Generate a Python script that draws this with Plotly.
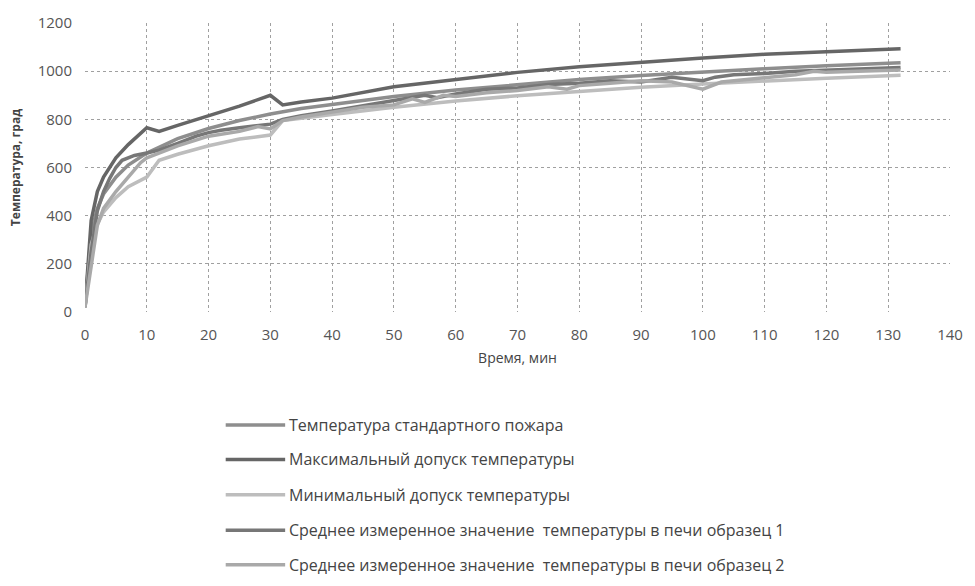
import plotly.graph_objects as go

# ---------------- data ----------------
series_names = [
    "Температура стандартного пожара",
    "Максимальный допуск температуры",
    "Минимальный допуск температуры",
    "Среднее измеренное значение  температуры в печи образец 1",
    "Среднее измеренное значение  температуры в печи образец 2",
]

t_std = [0, 1, 2, 3, 5, 7, 10, 15, 20, 25, 30, 35, 40, 50, 60, 70, 80, 90, 100, 110, 120, 132]
v_std = [20, 330, 430, 490, 560, 610, 660, 720, 762, 795, 822, 845, 862, 895, 922, 945, 965, 982, 997, 1010, 1022, 1035]

t_max = [0, 1, 2, 3, 5, 7, 10, 12, 15, 20, 25, 30, 32, 35, 40, 50, 60, 70, 80, 90, 100, 110, 120, 132]
v_max = [20, 380, 500, 560, 640, 695, 765, 750, 775, 815, 855, 900, 860, 872, 888, 935, 965, 995, 1018, 1038, 1055, 1070, 1082, 1093]

t_min = [0, 1, 2, 3, 5, 7, 10, 12, 15, 20, 25, 30, 32, 35, 40, 50, 60, 70, 80, 90, 100, 110, 120, 132]
v_min = [17, 280, 365, 415, 475, 520, 560, 630, 655, 690, 718, 735, 795, 805, 820, 850, 876, 898, 917, 933, 947, 960, 971, 983]

t_m1 = [0, 1, 2, 3, 4, 5, 6, 8, 10, 12, 15, 18, 20, 22, 25, 28, 30, 32, 35, 40, 45, 50, 55, 57,
        60, 65, 70, 75, 80, 85, 90, 95, 100, 102, 105, 110, 115, 120, 125, 132]
v_m1 = [20, 250, 420, 500, 555, 600, 630, 650, 660, 672, 700, 730, 745, 755, 765, 775, 780, 800, 815, 835, 855, 878, 900, 890,
        905, 925, 930, 945, 950, 960, 955, 975, 960, 975, 985, 990, 1000, 1005, 1010, 1015]

t_m2 = [0, 1, 2, 3, 5, 7, 9, 10, 12, 15, 20, 25, 28, 30, 32, 35, 40, 45, 50, 53, 55, 58, 60, 65,
        70, 75, 78, 80, 85, 90, 95, 100, 103, 105, 110, 115, 118, 120, 125, 132]
v_m2 = [20, 200, 360, 430, 500, 560, 620, 640, 660, 690, 730, 750, 770, 760, 795, 810, 830, 850, 860, 885, 870, 900, 895, 910,
        920, 935, 925, 940, 950, 960, 955, 925, 955, 960, 970, 985, 1000, 995, 1000, 1005]

x_ticks = list(range(0, 141, 10))
y_ticks = list(range(0, 1201, 200))

x_title = "Время, мин"
y_title = "Температура, град"

# ---------------- styles ----------------
colors = ["#8e8e8e", "#666666", "#bdbdbd", "#777777", "#a9a9a9"]
widths = [3.5, 3.5, 3.5, 3.5, 3.5]

W, H = 975, 586
ML, MR, MT, MB = 85, 17, 18, 274
PW = W - ML - MR
PH = H - MT - MB

fig = go.Figure()
data = [(t_std, v_std), (t_max, v_max), (t_min, v_min), (t_m1, v_m1), (t_m2, v_m2)]
for (tx, vy), name, c, w in zip(data, series_names, colors, widths):
    fig.add_trace(go.Scatter(x=tx, y=vy, mode="lines", name=name,
                             line=dict(color=c, width=w), showlegend=False))

# manual legend below the chart
def px2paper_x(px):
    return (px - ML) / PW

def py2paper_y(py):
    return (MT + PH - py) / PH

leg_y = [427, 462, 498, 534, 569]
shapes = []
annotations = []
for name, c, w, py in zip(series_names, colors, widths, leg_y):
    shapes.append(dict(type="line", xref="paper", yref="paper",
                       x0=px2paper_x(227), x1=px2paper_x(287),
                       y0=py2paper_y(py), y1=py2paper_y(py),
                       line=dict(color=c, width=w)))
    annotations.append(dict(xref="paper", yref="paper", x=px2paper_x(289), y=py2paper_y(py),
                            xanchor="left", yanchor="middle", showarrow=False,
                            text=name, font=dict(family="Open Sans", size=16, color="#444444")))

fig.update_layout(
    width=W, height=H,
    margin=dict(l=ML, r=MR, t=MT, b=MB),
    paper_bgcolor="white", plot_bgcolor="white",
    font=dict(family="Open Sans", color="#555555"),
    shapes=shapes, annotations=annotations,
    xaxis=dict(range=[0, 140], tickvals=x_ticks, ticktext=[str(v) for v in x_ticks],
               showgrid=True, gridcolor="#a0a0a0", griddash="dot", gridwidth=1,
               zeroline=False, showline=False, ticks="",
               tickfont=dict(size=15, color="#555555"), ticklabelstandoff=12,
               title=dict(text=x_title, font=dict(size=14, color="#444444"), standoff=10)),
    yaxis=dict(range=[0, 1200], tickvals=y_ticks, ticktext=[str(v) for v in y_ticks],
               showgrid=True, gridcolor="#a0a0a0", griddash="dot", gridwidth=1,
               zeroline=False, showline=False, ticks="",
               tickfont=dict(size=15, color="#555555"), ticklabelstandoff=12,
               title=dict(text="<b>" + y_title + "</b>", font=dict(size=12, color="#444444"), standoff=14)),
)

fig.write_html("out.html")
